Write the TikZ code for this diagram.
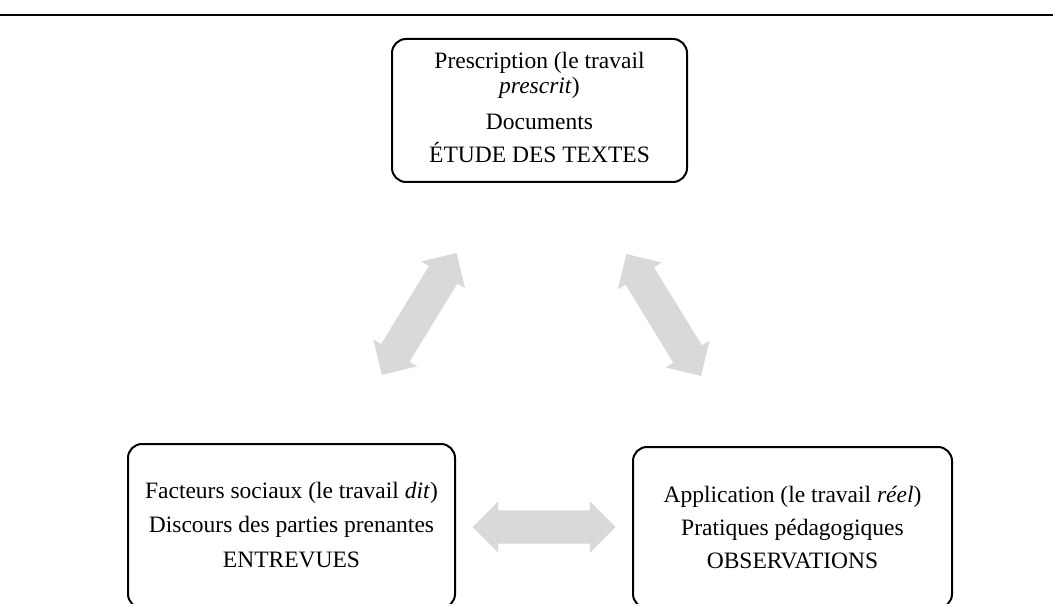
\documentclass[tikz,border=0pt]{standalone}
\usepackage{fontspec}
\setmainfont{Liberation Serif}
\usetikzlibrary{shapes.arrows}
\definecolor{arrowgray}{HTML}{D9D9D9}
\tikzset{
  box/.style={draw=black, line width=2pt, rounded corners=14pt, inner sep=0pt},
  txt/.style={anchor=base, inner sep=0pt, font=\fontsize{23.5}{26}\selectfont},
  blockarrow/.style={double arrow, fill=arrowgray, draw=none,
    inner xsep=0pt, inner ysep=16.5pt,
    minimum height=143pt,
    double arrow head extend=9pt, double arrow tip angle=90},
}
\begin{document}
\begin{tikzpicture}[x=1pt,y=-1pt]
\useasboundingbox (0,0) rectangle (1053,604);
% rule
\coordinate (ruleL) at (0,15);
\coordinate (ruleR) at (1053,15);
\draw[line width=2pt] (ruleL) -- (ruleR);
% boxes (bottom boxes run past the lower edge of the picture)
\node[box, minimum width=295pt, minimum height=143pt] (top) at (539.5,110.5) {};
\node[box, minimum width=327pt, minimum height=164pt] (left) at (291.5,526) {};
\node[box, minimum width=319pt, minimum height=161pt] (right) at (792.5,527.5) {};
% top texts
\node[txt] (t1) at (539.5,69) {Prescription (le travail};
\node[txt] (t2) at (539.5,94) {\textit{prescrit})};
\node[txt] (t3) at (539.5,130) {Documents};
\node[txt] (t4) at (539.5,163) {ÉTUDE DES TEXTES};
% left texts
\node[txt] (l1) at (291.5,498) {Facteurs sociaux (le travail \textit{dit})};
\node[txt] (l2) at (291.5,532) {Discours des parties prenantes};
\node[txt] (l3) at (291.5,567) {ENTREVUES};
% right texts
\node[txt] (r1) at (792.5,502) {Application (le travail \textit{réel})};
\node[txt] (r2) at (792.5,535) {Pratiques pédagogiques};
\node[txt] (r3) at (792.5,568) {OBSERVATIONS};
% block arrows
\node[blockarrow, rotate=58.5] (arrL) at (419.2,313.9) {};
\node[blockarrow, rotate=-58.5] (arrR) at (663.7,315) {};
\node[blockarrow] (arrM) at (544,527) {};
\end{tikzpicture}
\end{document}
